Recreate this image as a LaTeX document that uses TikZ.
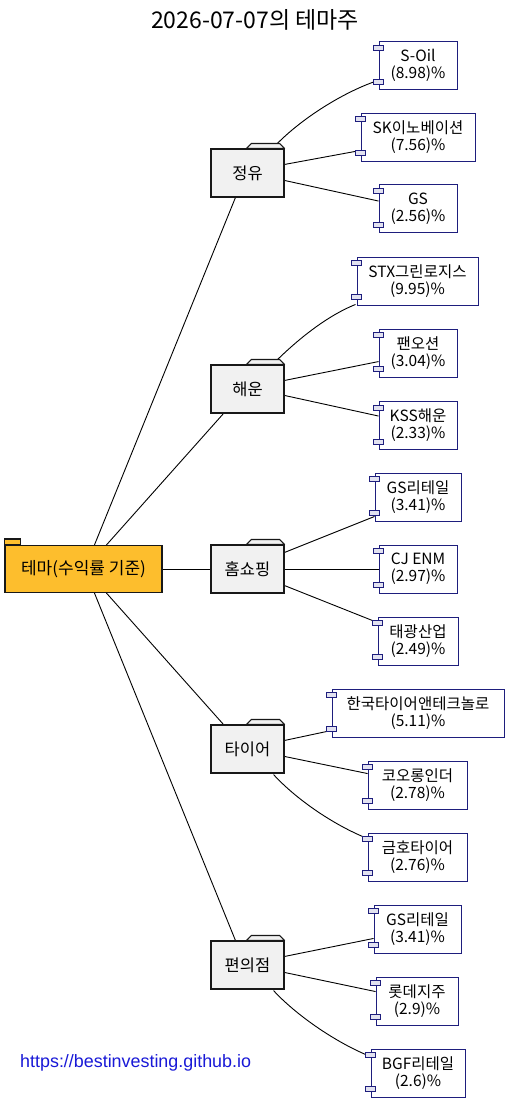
\documentclass[tikz,border=0pt]{standalone}
\usepackage{fontspec}
\setmainfont{Noto Sans CJK KR}
\newfontfamily\urlfont{Liberation Sans}
\usetikzlibrary{calc}
\pgfdeclarelayer{background}
\pgfsetlayers{background,main}
\definecolor{rootfill}{RGB}{253,190,45}
\definecolor{folderfill}{RGB}{241,241,241}
\definecolor{edgedark}{RGB}{24,24,24}
\definecolor{compline}{RGB}{30,30,125}
\definecolor{portfill}{RGB}{226,226,240}
\definecolor{urlblue}{RGB}{25,25,215}
\tikzset{
  rootbox/.style={draw=edgedark, line width=1.1pt, fill=rootfill, minimum width=157pt, minimum height=47pt, inner sep=0pt, font=\fontsize{17}{20}\selectfont},
  folderbox/.style={draw=edgedark, line width=1.1pt, fill=folderfill, minimum width=73pt, minimum height=48pt, inner sep=0pt, font=\fontsize{16.5}{19}\selectfont},
  tabshape/.style={draw=edgedark, line width=1.1pt, fill=folderfill, line join=round},
  roottab/.style={draw=edgedark, line width=1.1pt, fill=rootfill},
  compbox/.style={draw=compline, line width=0.9pt, fill=white, minimum height=48pt, inner sep=0pt, align=center, font=\fontsize{15.5}{17}\selectfont},
  port/.style={draw=compline, line width=0.9pt, fill=portfill},
  link/.style={draw=black, line width=0.9pt},
}
\begin{document}
\begin{tikzpicture}[x=1pt,y=-1pt]
\useasboundingbox (0,0) rectangle (509,1103);

\node (title) at (255,20) {\fontsize{23}{26}\selectfont 2026-07-07의 테마주};

\node[rootbox] (root) at (83.5,569) {테마(수익률 기준)};
\draw[roottab] (root.north west) rectangle ++(16,-6);

\node[folderbox] (c1) at (247.5,173) {정유};
\node[folderbox] (c2) at (247.5,389) {해운};
\node[folderbox] (c3) at (247.5,569) {홈쇼핑};
\node[folderbox] (c4) at (247.5,749) {타이어};
\node[folderbox] (c5) at (247.5,965) {편의점};
\foreach \c in {c1,c2,c3,c4,c5}{
  \draw[tabshape] ($(\c.north west)+(36,0)$) -- ++(5,-5) -- ($(\c.north east)+(-5,-5)$) -- (\c.north east) -- cycle;
}

\node[compbox, minimum width=78pt] (l1) at (418,65.5) {S-Oil\\(8.98)\%};
\node[compbox, minimum width=114pt] (l2) at (418,137) {SK이노베이션\\(7.56)\%};
\node[compbox, minimum width=78pt] (l3) at (418,208.5) {GS\\(2.56)\%};
\node[compbox, minimum width=121pt] (l4) at (417.5,281) {STX그린로지스\\(9.95)\%};
\node[compbox, minimum width=78pt] (l5) at (418,353) {팬오션\\(3.04)\%};
\node[compbox, minimum width=78pt] (l6) at (418,425.5) {KSS해운\\(2.33)\%};
\node[compbox, minimum width=86pt] (l7) at (418,497) {GS리테일\\(3.41)\%};
\node[compbox, minimum width=78pt] (l8) at (418,569) {CJ ENM\\(2.97)\%};
\node[compbox, minimum width=80pt] (l9) at (418,641) {태광산업\\(2.49)\%};
\node[compbox, minimum width=172pt] (l10) at (418,713) {한국타이어앤테크놀로\\(5.11)\%};
\node[compbox, minimum width=99pt] (l11) at (417.5,785) {코오롱인더\\(2.78)\%};
\node[compbox, minimum width=99pt] (l12) at (417.5,857) {금호타이어\\(2.76)\%};
\node[compbox, minimum width=87pt] (l13) at (417.5,929) {GS리테일\\(3.41)\%};
\node[compbox, minimum width=82pt] (l14) at (417,1001) {롯데지주\\(2.9)\%};
\node[compbox, minimum width=94pt] (l15) at (418,1073) {BGF리테일\\(2.6)\%};
\foreach \n in {l1,l2,l3,l4,l5,l6,l7,l8,l9,l10,l11,l12,l13,l14,l15}{
  \draw[port] ($(\n.north west)+(-5,4)$) rectangle ++(10,5);
  \draw[port] ($(\n.south west)+(-5,-11)$) rectangle ++(10,5);
}

\begin{pgfonlayer}{background}
\fill[white] (0,0) rectangle (509,1103);
% root to categories
\draw[link] ($(root.north west)+(90,0)$) -- ($(c1.south west)+(25,0)$);
\draw[link] ($(root.north west)+(102,0)$) -- ($(c2.south west)+(13,0)$);
\draw[link] (root.east) -- (c3.west);
\draw[link] ($(root.south west)+(102,0)$) -- ($(c4.north west)+(13,0)$);
\draw[link] ($(root.south west)+(90,0)$) -- ($(c5.north west)+(25,0)$);
% 정유
\draw[link] ($(c1.north east)+(-11,-1)$) .. controls +(25,-27) and +(-35,12) .. ($(l1.south west)+(-2,-9)$);
\draw[link] ($(c1.north east)+(0,16)$) -- ($(l2.south west)+(0,-11)$);
\draw[link] ($(c1.north east)+(0,32)$) -- ($(l3.north west)+(0,17)$);
% 해운
\draw[link] ($(c2.north east)+(-11,-1)$) .. controls +(22,-22) and +(-30,12) .. ($(l4.south west)+(-1,-1)$);
\draw[link] ($(c2.north east)+(0,16)$) -- ($(l5.north west)+(0,33)$);
\draw[link] ($(c2.north east)+(0,31)$) -- ($(l6.north west)+(0,15)$);
% 홈쇼핑
\draw[link] ($(c3.north east)+(0,8)$) -- ($(l7.south west)+(0,-5)$);
\draw[link] (c3.east) -- (l8.west);
\draw[link] ($(c3.south east)+(0,-8)$) -- ($(l9.north west)+(0,6)$);
% 타이어
\draw[link] ($(c4.north east)+(0,16)$) -- ($(l10.south west)+(0,-7)$);
\draw[link] ($(c4.north east)+(0,32)$) -- ($(l11.north west)+(0,13)$);
\draw[link] ($(c4.south east)+(-11,1)$) .. controls +(22,24) and +(-35,-14) .. ($(l12.north west)+(0,6)$);
% 편의점
\draw[link] ($(c5.north east)+(0,16)$) -- ($(l13.south west)+(0,-15)$);
\draw[link] ($(c5.north east)+(0,32)$) -- ($(l14.north west)+(0,15)$);
\draw[link] ($(c5.south east)+(-11,1)$) .. controls +(22,24) and +(-35,-14) .. ($(l15.north west)+(0,8)$);
\end{pgfonlayer}

\node[anchor=west, text=urlblue, inner sep=0pt] (url) at (20,1063) {\urlfont\fontsize{17.9}{20}\selectfont https://bestinvesting.github.io};
\end{tikzpicture}
\end{document}
